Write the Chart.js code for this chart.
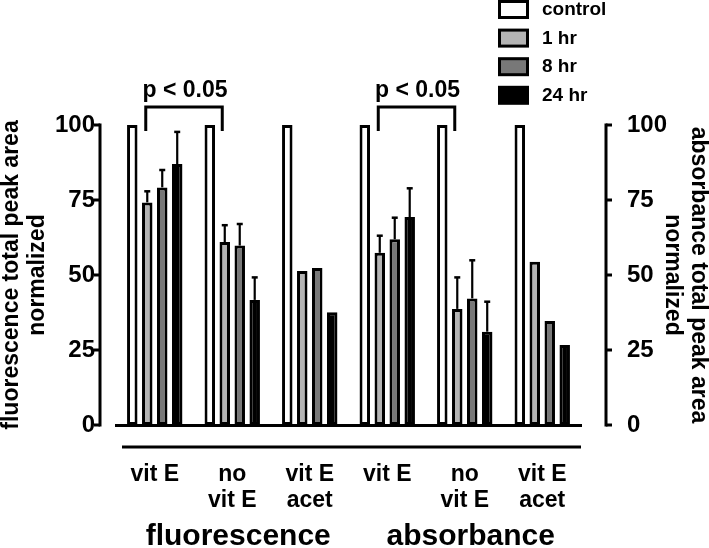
<!DOCTYPE html>
<html><head><meta charset="utf-8">
<script src="https://cdn.jsdelivr.net/npm/chart.js@4/dist/chart.umd.min.js"></script>
<style>html,body{margin:0;padding:0;background:#fff}#wrap{width:709px;height:548px}</style>
</head><body><div id="wrap"><canvas id="c" width="709" height="548"></canvas></div>
<script>
const categories = [["vit E"], ["no", "vit E"], ["vit E", "acet"], ["vit E"], ["no", "vit E"], ["vit E", "acet"]];
const sections = ["fluorescence", "absorbance"];
const seriesNames = ["control", "1 hr", "8 hr", "24 hr"];
const control = [100, 100, 100, 100, 100, 100];
const hr1 = [74.2, 61.0, 51.3, 57.4, 38.7, 54.4];
const hr8 = [79.2, 59.8, 52.3, 61.9, 42.2, 34.7];
const hr24 = [87.0, 41.7, 37.6, 69.3, 31.1, 26.7];
const hr1Err = [3.7, 5.6, null, 5.7, 10.5, null];
const hr8Err = [5.8, 7.2, null, 7.2, 12.7, null];
const hr24Err = [10.7, 7.5, null, 9.6, 10.0, null];
const yTicks = [0, 25, 50, 75, 100];
const sigLabel = "p < 0.05";
const sigPairs = [[0, 1], [3, 4]];
const leftTitle = ["fluorescence total peak area", "normalized"];
const rightTitle = ["absorbance total peak area", "normalized"];

const FONT = "'Liberation Sans', Arial, sans-serif";
const colors = ["#ffffff", "#b4b4b4", "#787878", "#000000"];
const seriesValues = [control, hr1, hr8, hr24];
const seriesErrors = [null, hr1Err, hr8Err, hr24Err];

const overlay = {
  id: 'overlay',
  afterDatasetsDraw(chart) {
    const ctx = chart.ctx;
    const ys = chart.scales.y, xs = chart.scales.x;
    const ca = chart.chartArea;
    ctx.save();
    ctx.strokeStyle = '#000';
    ctx.fillStyle = '#000';
    ctx.lineCap = 'butt';
    // error bars
    for (let d = 1; d < 4; d++) {
      const meta = chart.getDatasetMeta(d);
      const errs = seriesErrors[d];
      meta.data.forEach((el, i) => {
        const e = errs[i];
        if (e == null) return;
        const top = ys.getPixelForValue(seriesValues[d][i] + e);
        ctx.lineWidth = 2.2;
        ctx.beginPath(); ctx.moveTo(el.x, el.y); ctx.lineTo(el.x, top); ctx.stroke();
        ctx.lineWidth = 2.5;
        ctx.beginPath(); ctx.moveTo(el.x - 3, top); ctx.lineTo(el.x + 3, top); ctx.stroke();
      });
    }
    // offset y axes
    ctx.lineWidth = 3;
    const y0 = ys.getPixelForValue(0), y100 = ys.getPixelForValue(100);
    const lx = ca.left - 16, rx = ca.right + 25;
    ctx.beginPath(); ctx.moveTo(lx, y0 + 1.5); ctx.lineTo(lx, y100 - 1.5); ctx.stroke();
    ctx.beginPath(); ctx.moveTo(rx, y0 + 1.5); ctx.lineTo(rx, y100 - 1.5); ctx.stroke();
    yTicks.forEach(t => {
      const p = ys.getPixelForValue(t);
      ctx.beginPath(); ctx.moveTo(lx - 6, p); ctx.lineTo(lx, p); ctx.stroke();
      ctx.beginPath(); ctx.moveTo(rx, p); ctx.lineTo(rx + 6, p); ctx.stroke();
    });
    // second baseline
    ctx.beginPath(); ctx.moveTo(ca.left + 6, ca.bottom + 22); ctx.lineTo(ca.right, ca.bottom + 22); ctx.stroke();
    // section labels
    ctx.font = "bold 30px " + FONT;
    ctx.textAlign = 'center'; ctx.textBaseline = 'alphabetic';
    ctx.fillText(sections[0], (xs.getPixelForValue(0) + xs.getPixelForValue(2)) / 2 + 6, 545);
    ctx.fillText(sections[1], (xs.getPixelForValue(3) + xs.getPixelForValue(5)) / 2 + 6, 545);
    // significance brackets
    const m1 = chart.getDatasetMeta(1);
    sigPairs.forEach(([a, b]) => {
      const xa = m1.data[a].x - 1.5, xb = m1.data[b].x - 2.5;
      const yb = 107;
      ctx.lineWidth = 3;
      ctx.beginPath();
      ctx.moveTo(xa, yb + 24); ctx.lineTo(xa, yb); ctx.lineTo(xb, yb); ctx.lineTo(xb, yb + 24);
      ctx.stroke();
      ctx.font = "bold 23px " + FONT;
      ctx.textAlign = 'center'; ctx.textBaseline = 'alphabetic';
      ctx.fillText(sigLabel, (xa + xb) / 2 + 1, 97);
    });
    // legend
    ctx.font = "bold 19px " + FONT;
    ctx.textAlign = 'left'; ctx.textBaseline = 'middle';
    seriesNames.forEach((n, i) => {
      const top = 1.5 + i * 28.6;
      ctx.fillStyle = colors[i];
      ctx.fillRect(499.5, top, 28, 16);
      ctx.lineWidth = 3;
      ctx.strokeRect(499.5, top, 28, 16);
      ctx.fillStyle = '#000';
      ctx.fillText(n, 542, top + 8.5);
    });
    ctx.restore();
  }
};

const datasets = seriesNames.map((n, i) => ({
  label: n,
  data: seriesValues[i],
  backgroundColor: colors[i],
  borderColor: '#000',
  borderWidth: 3,
  borderSkipped: false,
  categoryPercentage: 0.773,
  barPercentage: 0.7,
  yAxisID: 'y'
}));

const tickFont = { family: FONT, size: 24, weight: 'bold' };
const titleFont = { family: FONT, size: 23, weight: 'bold', lineHeight: 1.15 };

new Chart(document.getElementById('c'), {
  type: 'bar',
  data: { labels: categories, datasets },
  plugins: [overlay],
  options: {
    responsive: false,
    devicePixelRatio: 1,
    animation: false,
    layout: { padding: { top: 125, left: 0, right: 0, bottom: 0 } },
    plugins: { legend: { display: false }, tooltip: { enabled: false } },
    scales: {
      x: {
        type: 'category',
        offset: true,
        grid: { display: false, drawTicks: false },
        border: { display: true, width: 3, color: '#000' },
        ticks: { color: '#000', font: { family: FONT, size: 23, weight: 'bold', lineHeight: 1.13 }, padding: 37, maxRotation: 0, autoSkip: false },
        afterFit: s => { s.height = 123; }
      },
      y: {
        position: 'left', min: 0, max: 100,
        afterBuildTicks: s => { s.ticks = yTicks.map(v => ({ value: v })); },
        grid: { display: false, drawTicks: false },
        border: { display: false },
        ticks: { color: '#000', font: tickFont, padding: 21 },
        title: { display: true, text: leftTitle, color: '#000', font: titleFont, padding: { top: -2, bottom: 0 } },
        afterFit: s => { s.width = 116; }
      },
      y2: {
        position: 'right', min: 0, max: 100,
        afterBuildTicks: s => { s.ticks = yTicks.map(v => ({ value: v })); },
        grid: { display: false, drawTicks: false },
        border: { display: false },
        ticks: { color: '#000', font: tickFont, padding: 46 },
        title: { display: true, text: rightTitle, color: '#000', font: titleFont, padding: { top: -3, bottom: 0 } },
        afterFit: s => { s.width = 128; }
      }
    }
  }
});
</script></body></html>
